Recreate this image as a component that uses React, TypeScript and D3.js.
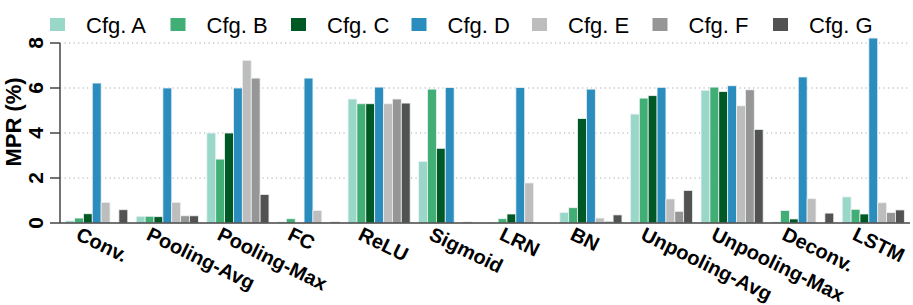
import React, { useEffect, useRef } from 'react';
import * as d3 from 'd3';

const categories = ['Conv.', 'Pooling-Avg', 'Pooling-Max', 'FC', 'ReLU', 'Sigmoid', 'LRN', 'BN', 'Unpooling-Avg', 'Unpooling-Max', 'Deconv.', 'LSTM'];
const configs = ['Cfg. A', 'Cfg. B', 'Cfg. C', 'Cfg. D', 'Cfg. E', 'Cfg. F', 'Cfg. G'];
const colors = ['#99d8c9', '#41ae76', '#005824', '#2b8cbe', '#bdbdbd', '#969696', '#525252'];

// one array per config, in category order
const cfgA = [0.1, 0.3, 4.0, 0.05, 5.51, 2.74, 0.02, 0.47, 4.84, 5.9, 0.05, 1.16];
const cfgB = [0.22, 0.3, 2.84, 0.19, 5.3, 5.95, 0.19, 0.68, 5.55, 6.04, 0.56, 0.61];
const cfgC = [0.41, 0.28, 4.0, 0, 5.3, 3.32, 0.4, 4.64, 5.66, 5.84, 0.18, 0.4];
const cfgD = [6.22, 6.0, 6.0, 6.44, 6.04, 6.02, 6.02, 5.95, 6.03, 6.1, 6.49, 8.22];
const cfgE = [0.92, 0.92, 7.23, 0.56, 5.3, 0, 1.78, 0.22, 1.07, 5.21, 1.08, 0.9];
const cfgF = [0, 0.32, 6.44, 0, 5.51, 0.05, 0, 0.08, 0.52, 5.92, 0, 0.46];
const cfgG = [0.59, 0.32, 1.27, 0.05, 5.33, 0, 0, 0.36, 1.45, 4.16, 0.44, 0.58];
const series = [cfgA, cfgB, cfgC, cfgD, cfgE, cfgF, cfgG];

const yTicks = [0, 2, 4, 6, 8];

const App: React.FC = () => {
  const ref = useRef<SVGSVGElement>(null);

  useEffect(() => {
    document.body.style.margin = '0';
    const svg = d3.select(ref.current);
    svg.html('');

    const width = 913;
    const height = 305;
    const left = 60, right = 910, top = 43, bottom = 223;
    const font = '"Liberation Sans", Arial, Helvetica, sans-serif';

    svg.attr('width', width).attr('height', height).style('font-family', font);

    const x = d3.scaleBand<string>().domain(categories).range([left, right]).paddingInner(0.12).paddingOuter(0.08);
    const xs = d3.scaleBand<string>().domain(configs).range([0, x.bandwidth()]).padding(0);
    const y = d3.scaleLinear().domain([0, 8]).range([bottom, top]);

    // grid
    svg.append('g')
      .selectAll('line')
      .data(yTicks.filter(d => d > 0))
      .enter()
      .append('line')
      .attr('x1', left).attr('x2', right)
      .attr('y1', d => y(d)).attr('y2', d => y(d))
      .attr('stroke', '#aaa')
      .attr('stroke-width', 1.2)
      .attr('stroke-dasharray', '1.2,3.3');

    // bars
    const groups = svg.append('g')
      .selectAll('g')
      .data(categories)
      .enter()
      .append('g')
      .attr('transform', d => `translate(${x(d)},0)`);

    groups.selectAll('rect')
      .data((d, i) => configs.map((c, j) => ({ c, v: series[j][i], color: colors[j] })))
      .enter()
      .append('rect')
      .filter(d => d.v > 0)
      .attr('x', d => xs(d.c)!)
      .attr('width', xs.bandwidth())
      .attr('y', d => y(d.v))
      .attr('height', d => bottom - y(d.v))
      .attr('fill', d => d.color)
      .attr('stroke', '#eef2f4')
      .attr('stroke-width', 0.8);

    // axes lines
    svg.append('line')
      .attr('x1', left).attr('x2', left).attr('y1', top).attr('y2', bottom)
      .attr('stroke', '#444').attr('stroke-width', 1.5);
    svg.append('line')
      .attr('x1', left).attr('x2', right).attr('y1', bottom).attr('y2', bottom)
      .attr('stroke', '#444').attr('stroke-width', 1.5);

    // y ticks
    const yt = svg.append('g');
    yt.selectAll('line')
      .data(yTicks)
      .enter()
      .append('line')
      .attr('x1', left - 10).attr('x2', left)
      .attr('y1', d => y(d)).attr('y2', d => y(d))
      .attr('stroke', '#444').attr('stroke-width', 1.5);
    yt.selectAll('text')
      .data(yTicks)
      .enter()
      .append('text')
      .attr('transform', d => `translate(43,${y(d)}) rotate(-90)`)
      .attr('text-anchor', 'middle')
      .style('font-size', '21px')
      .style('font-weight', 'bold')
      .text(d => d);

    svg.append('text')
      .attr('transform', `translate(21,${(top + bottom) / 2 - 11}) rotate(-90)`)
      .attr('text-anchor', 'middle')
      .style('font-size', '22px')
      .style('font-weight', 'bold')
      .text('MPR (%)');

    // x labels
    svg.append('g')
      .selectAll('text')
      .data(categories)
      .enter()
      .append('text')
      .attr('transform', d => `translate(${x(d)! + x.bandwidth() / 2 - 22},239) rotate(26)`)
      .attr('text-anchor', 'start')
      .style('font-size', '20px')
      .style('font-weight', 'bold')
      .text(d => d);

    // legend
    const lx = d3.scalePoint<string>().domain(configs).range([50, 773]);
    const leg = svg.append('g')
      .selectAll('g')
      .data(configs)
      .enter()
      .append('g')
      .attr('transform', d => `translate(${lx(d)},0)`);
    leg.append('rect')
      .attr('x', 0).attr('y', 18)
      .attr('width', 15).attr('height', 13)
      .attr('fill', (d, i) => colors[i]);
    leg.append('text')
      .attr('x', 36).attr('y', 33)
      .style('font-size', '22px')
      .text(d => d);
  }, []);

  return <svg ref={ref} style={{ display: 'block' }}></svg>;
};

export default App;
